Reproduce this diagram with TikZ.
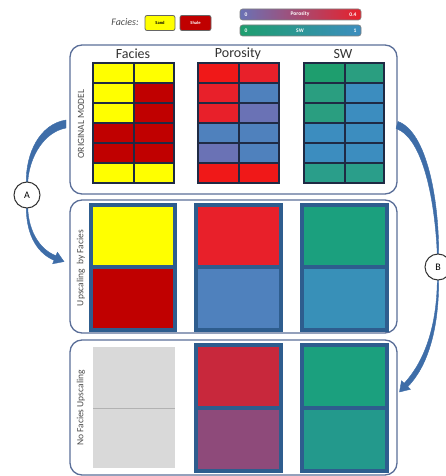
\documentclass[tikz,border=0pt]{standalone}
\usepackage{fontspec}
\setmainfont{Carlito}
\usetikzlibrary{arrows.meta}
\definecolor{panelc}{HTML}{5A6E98}
\definecolor{arrowc}{HTML}{3E6DA8}
\definecolor{gridc}{HTML}{1F2A44}
\definecolor{blockc}{HTML}{2E5D8E}
\definecolor{fy}{HTML}{FFFF00}
\definecolor{fr}{HTML}{C00000}
\definecolor{pr}{HTML}{F01818}
\definecolor{pr2}{HTML}{E8202A}
\definecolor{pb}{HTML}{4F81BD}
\definecolor{pp}{HTML}{6A72B5}
\definecolor{sg}{HTML}{1E9E6E}
\definecolor{sg2}{HTML}{2A9E80}
\definecolor{sb}{HTML}{3C8DBF}
\definecolor{st}{HTML}{2A9E8A}
\definecolor{gry}{HTML}{D9D9D9}
\definecolor{nr}{HTML}{C8283C}
\definecolor{np}{HTML}{8E4A7A}
\definecolor{ng}{HTML}{1BA07E}
\definecolor{nt}{HTML}{23998C}
\definecolor{ub}{HTML}{3890B8}
\tikzset{
  panel/.style={draw=panelc, line width=1.3pt, rounded corners=12pt},
  cell/.style={draw=gridc, line width=1.4pt},
  blk/.style={draw=blockc, line width=3.5pt},
  hdr/.style={font=\fontsize{14}{14}\selectfont, text=black!80},
  side/.style={font=\fontsize{9.5}{10}\selectfont, text=black!70, rotate=90},
  taper/.style={fill=arrowc, draw=arrowc, line width=0.4pt},
  lbl/.style={circle, draw=black!80, line width=1pt, fill=white, minimum size=26pt, inner sep=0pt, font=\fontsize{10}{10}\selectfont},
  legbox/.style={draw=black!60, line width=0.8pt, rounded corners=2pt, minimum height=15pt, inner sep=0pt, font=\fontsize{4.5}{4.5}\selectfont\bfseries},
  legtext/.style={font=\fontsize{5.5}{5.5}\selectfont\bfseries, text=white}
}
\begin{document}
\begin{tikzpicture}[x=1pt,y=-1pt]
\useasboundingbox (0,0) rectangle (446,476);
% legend
\node[font=\fontsize{10}{10}\selectfont\itshape, text=black!70] (legf) at (125,22) {Facies:};
\node[legbox, fill=fy, minimum width=30pt] (sand) at (160,23) {Sand};
\node[legbox, fill=fr, text=white, minimum width=31pt] (shale) at (195.5,23) {Shale};
\shade[left color=pp, right color=pr2, rounded corners=2.5pt] (240,9) rectangle (361,20);
\draw[black!50, line width=0.6pt, rounded corners=2.5pt] (240,9) rectangle (361,20);
\node[legtext] (p0) at (246,14.5) {0};
\node[legtext] (pt) at (300,14.5) {Porosity};
\node[legtext] (p4) at (353,14.5) {0.4};
\shade[left color=sg, right color=sb, rounded corners=2.5pt] (240,25) rectangle (361,36);
\draw[black!50, line width=0.6pt, rounded corners=2.5pt] (240,25) rectangle (361,36);
\node[legtext] (s0) at (246,30.5) {0};
\node[legtext] (st) at (300,30.5) {SW};
\node[legtext] (s1) at (355,30.5) {1};
% panels
\draw[panel] (70,45) rectangle (397,194);
\draw[panel] (70,200) rectangle (397,333);
\draw[panel] (70,340) rectangle (397,475);
% headers
\node[hdr] (hf) at (133,54) {Facies};
\node[hdr] (hp) at (238,54) {Porosity};
\node[hdr] (hs) at (343,54) {SW};
% side labels
\node[side] (l1) at (81,124) {ORIGINAL MODEL};
\node[side] (l2) at (81,268) {Upscaling \ by Facies};
\node[side] (l3) at (81,408) {No Facies Upscaling};
% original grids
\foreach \r/\a/\b in {0/fy/fy,1/fy/fr,2/fy/fr,3/fr/fr,4/fr/fr,5/fy/fy}{
  \draw[cell, fill=\a] (93,63+20*\r) rectangle (134,83+20*\r);
  \draw[cell, fill=\b] (134,63+20*\r) rectangle (174,83+20*\r);
}
\foreach \r/\a/\b in {0/pr/pr2,1/pr2/pb,2/pr2/pp,3/pb/pb,4/pp/pb,5/pr/pr}{
  \draw[cell, fill=\a] (198,63+20*\r) rectangle (239,83+20*\r);
  \draw[cell, fill=\b] (239,63+20*\r) rectangle (279,83+20*\r);
}
\foreach \r/\a/\b in {0/sg/sg2,1/sg2/sb,2/sg2/sb,3/sb/sb,4/sb/sb,5/st/st}{
  \draw[cell, fill=\a] (304,63+20*\r) rectangle (345,83+20*\r);
  \draw[cell, fill=\b] (345,63+20*\r) rectangle (384,83+20*\r);
}
% upscaling by facies
\fill[fy] (91,205) rectangle (175,267);
\fill[fr] (91,267) rectangle (175,330);
\draw[blk] (91,205) rectangle (175,330);
\draw[blk] (91,267) -- (175,267);
\fill[pr2] (196,205) rectangle (281,267);
\fill[pb] (196,267) rectangle (281,330);
\draw[blk] (196,205) rectangle (281,330);
\draw[blk] (196,267) -- (281,267);
\fill[ng] (302,205) rectangle (387,267);
\fill[ub] (302,267) rectangle (387,330);
\draw[blk] (302,205) rectangle (387,330);
\draw[blk] (302,267) -- (387,267);
% no facies upscaling
\fill[gry] (93,347) rectangle (175,468);
\draw[black!30, line width=0.6pt] (93,408) -- (175,408);
\fill[nr] (196,345) rectangle (281,408);
\fill[np] (196,408) rectangle (281,471);
\draw[blk] (196,345) rectangle (281,471);
\draw[blk] (196,408) -- (281,408);
\fill[ng] (302,345) rectangle (387,408);
\fill[nt] (302,408) rectangle (387,471);
\draw[blk] (302,345) rectangle (387,471);
\draw[blk] (302,408) -- (387,408);
% tapered arrow A
\fill[taper] (66,120) .. controls (40,124) and (25.5,153) .. (26.3,183)
  -- (27.7,183) .. controls (29,157) and (44,132) .. (66,128) -- cycle;
\fill[taper] (26.3,207) .. controls (26,237) and (39,254) .. (54.1,260.3)
  -- (52.6,263.8) -- (64,261.6) -- (57.4,252.2) -- (55.9,255.7)
  .. controls (41,250) and (28.5,233) .. (27.7,207) -- cycle;
% tapered arrow B
\fill[taper] (398,121.5) .. controls (427,132) and (439,200) .. (438.7,255)
  -- (437.3,255) .. controls (435,200) and (423,138) .. (396,128.5) -- cycle;
\fill[taper] (438.7,279) .. controls (439,331) and (427,367) .. (407.8,386.7)
  -- (410.5,389.3) -- (399.5,392) -- (401.5,380.7) -- (404.2,383.3)
  .. controls (423,363) and (437,329) .. (437.3,279) -- cycle;
% circles
\node[lbl] (A) at (27,195) {A};
\node[lbl] (B) at (438,267) {B};
\end{tikzpicture}
\end{document}
